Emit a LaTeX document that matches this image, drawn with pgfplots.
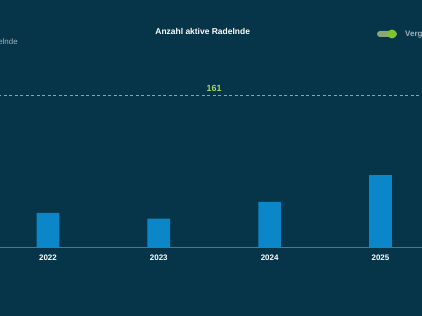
\documentclass[border=0pt]{standalone}
\usepackage{pgfplots}
\pgfplotsset{compat=1.18}
\usepackage{fontspec}
\setmainfont{Liberation Sans}
\definecolor{bgc}{RGB}{6,52,72}
\definecolor{barc}{RGB}{11,135,201}
\definecolor{basec}{RGB}{70,122,145}
\definecolor{dashc}{RGB}{130,168,178}
\definecolor{lgreen}{RGB}{168,214,104}
\definecolor{greyt}{RGB}{160,180,190}
\definecolor{knob}{RGB}{124,197,46}
\definecolor{track}{RGB}{140,165,120}
\begin{document}
\begin{tikzpicture}[x=1bp,y=1bp]
\useasboundingbox (0,0) rectangle (422,316);
\clip (0,0) rectangle (422,316);
\fill[bgc] (0,0) rectangle (422,316);
% header texts
\node[anchor=center, text=white, font=\bfseries\fontsize{8.5}{10}\selectfont] at (202.7,284.7) {Anzahl aktive Radelnde};
\node[anchor=east, text=greyt, inner sep=0pt, font=\fontsize{8}{10}\selectfont] at (18,274) {Radelnde};
\fill[track, rounded corners=3bp] (377,279) rectangle (397,285);
\fill[knob] (392,282) circle (4.5);
\node[anchor=west, text=greyt, inner sep=0pt, font=\bfseries\fontsize{8}{10}\selectfont] at (405,282) {Vergleich};
\begin{axis}[
  at={(0,73)}, anchor=south west,
  scale only axis, width=422bp, height=151.5bp,
  xmin=-0.433, xmax=3.375, ymin=0, ymax=161,
  clip=false,
  hide y axis,
  axis x line*=bottom,
  x axis line style={draw=basec, line width=1.1pt, -},
  xtick={0,1,2,3},
  xticklabels={2022,2023,2024,2025},
  major tick length=0pt,
  xticklabel style={text=white, font=\bfseries\fontsize{8}{10}\selectfont, yshift=-4bp},
  /pgf/number format/assume math mode=true,
]
\addplot[ybar, bar width=22.7bp, fill=barc, draw=none] coordinates {(0,36.7) (1,30.6) (2,48.4) (3,76.7)};
\addplot[dashc, line width=0.8pt, dash pattern=on 3bp off 2.5bp, mark=none] coordinates {(-0.5,161) (3.5,161)};
\node[anchor=south, text=lgreen, inner sep=4bp, font=\bfseries\fontsize{9}{10}\selectfont] at (axis cs:1.5,161) {161};
\end{axis}
\end{tikzpicture}
\end{document}
